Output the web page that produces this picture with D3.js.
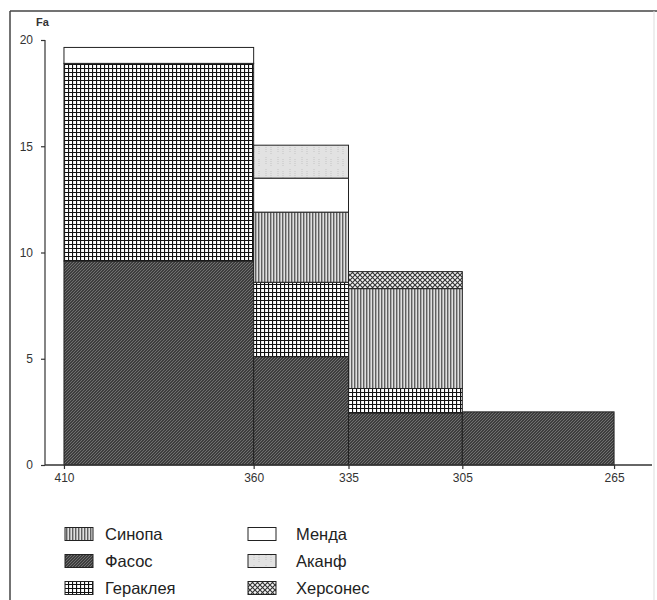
<!DOCTYPE html>
<html><head><meta charset="utf-8">
<script src="https://cdn.jsdelivr.net/npm/d3@7"></script>
<style>body{margin:0;background:#fff}svg{display:block;font-family:"Liberation Sans",Arial,sans-serif}</style>
</head><body>
<script>
const binEdges = [410, 360, 335, 305, 265];
const xTicks = [410, 360, 335, 305, 265];
const yTicks = [0, 5, 10, 15, 20];
const seriesNames = ["Фасос", "Гераклея", "Синопа", "Менда", "Аканф", "Херсонес"];
const fasos     = [9.6, 5.1, 2.45, 2.5];
const herakleia = [9.3, 3.5, 1.15, 0];
const sinopa    = [0, 3.3, 4.7, 0];
const menda     = [0.75, 1.6, 0, 0];
const akanf     = [0, 1.55, 0, 0];
const chersones = [0, 0, 0.8, 0];
const legendLeft = ["Синопа", "Фасос", "Гераклея"];
const legendRight = ["Менда", "Аканф", "Херсонес"];

const valuesByName = {"Фасос": fasos, "Гераклея": herakleia, "Синопа": sinopa, "Менда": menda, "Аканф": akanf, "Херсонес": chersones};
const rows = binEdges.slice(0, -1).map((e, i) => {
  const r = {x0: e, x1: binEdges[i + 1]};
  seriesNames.forEach(n => r[n] = valuesByName[n][i]);
  return r;
});

const W = 657, H = 600;
const svg = d3.select("body").append("svg").attr("width", W).attr("height", H);
const defs = svg.append("defs");

function pat(id, w, h, bg, draw) {
  const p = defs.append("pattern").attr("id", id).attr("patternUnits", "userSpaceOnUse").attr("width", w).attr("height", h);
  p.append("rect").attr("width", w).attr("height", h).attr("fill", bg);
  draw(p);
}
pat("p-fasos", 3, 3, "#3e3e3e", p => {
  p.append("path").attr("d", "M0,3 L3,0 M-1,1 L1,-1 M2,4 L4,2").attr("stroke", "#767676").attr("stroke-width", 0.9);
});
pat("p-herak", 4, 4, "#fff", p => {
  p.append("path").attr("d", "M0,0.5 H4 M0.5,0 V4").attr("stroke", "#111").attr("stroke-width", 1.2);
});
pat("p-sinopa", 3, 10, "#e0e0e0", p => {
  p.append("path").attr("d", "M0.75,0 V10").attr("stroke", "#4a4a4a").attr("stroke-width", 1.2);
});
pat("p-akanf", 12, 12, "#e2e2e2", p => {
  p.append("path").attr("d", "M2,1 V9 M7,3 V11").attr("stroke", "#c4c4c4").attr("stroke-width", 1).attr("stroke-dasharray", "1,1");
});
pat("p-cherson", 5, 5, "#f2f2f2", p => {
  p.append("path").attr("d", "M0,0 L5,5 M5,0 L0,5").attr("stroke", "#333").attr("stroke-width", 1.1);
});
const fills = {"Фасос": "url(#p-fasos)", "Гераклея": "url(#p-herak)", "Синопа": "url(#p-sinopa)", "Менда": "#fff", "Аканф": "url(#p-akanf)", "Херсонес": "url(#p-cherson)"};

// frame
svg.append("line").attr("x1", 10).attr("y1", 11).attr("x2", 657).attr("y2", 11).attr("stroke", "#444").attr("stroke-width", 1.5);
svg.append("line").attr("x1", 10).attr("y1", 11).attr("x2", 10).attr("y2", 600).attr("stroke", "#444").attr("stroke-width", 1.5);
svg.append("line").attr("x1", 654).attr("y1", 11).attr("x2", 654).attr("y2", 600).attr("stroke", "#ddd").attr("stroke-width", 1);

const x = d3.scaleLinear().domain([415, 255]).range([45, 652]);
const y = d3.scaleLinear().domain([0, 20]).range([465, 40]);

const stack = d3.stack().keys(seriesNames)(rows);
const g = svg.append("g");
stack.forEach(layer => {
  g.selectAll(null).data(layer.filter(d => d[1] - d[0] > 0)).join("rect")
    .attr("x", d => x(d.data.x0))
    .attr("width", d => x(d.data.x1) - x(d.data.x0))
    .attr("y", d => y(d[1]))
    .attr("height", d => y(d[0]) - y(d[1]))
    .attr("fill", fills[layer.key])
    .attr("stroke", "#222").attr("stroke-width", 1);
});

// axes
const yAxis = svg.append("g").attr("transform", "translate(45,0)")
  .call(d3.axisLeft(y).tickValues(yTicks).tickSize(4).tickPadding(8));
const xAxis = svg.append("g").attr("transform", "translate(0,465)")
  .call(d3.axisBottom(x).tickValues(xTicks).tickSize(4).tickPadding(4));
[yAxis, xAxis].forEach(a => {
  a.selectAll("path,line").attr("stroke", "#333").attr("stroke-width", 1.2);
  a.selectAll("text").attr("font-size", 12).attr("fill", "#333").attr("font-family", "Liberation Sans, Arial, sans-serif");
  a.select(".domain").attr("d", null);
});
yAxis.append("line").attr("x1", 0).attr("x2", 0).attr("y1", y(20)).attr("y2", y(0)).attr("stroke", "#333").attr("stroke-width", 1.2);
xAxis.append("line").attr("x1", x(415)).attr("x2", x(255)).attr("y1", 0).attr("y2", 0).attr("stroke", "#333").attr("stroke-width", 1.5);

svg.append("text").attr("x", 36).attr("y", 26).text("Fa").attr("font-size", 11).attr("font-weight", "bold").attr("fill", "#333");

// legend
function legendCol(names, sx, tx) {
  names.forEach((n, i) => {
    const cy = 534 + i * 27;
    svg.append("rect").attr("x", sx).attr("y", cy - 6.5).attr("width", 28).attr("height", 13)
      .attr("fill", fills[n]).attr("stroke", "#222").attr("stroke-width", 1);
    svg.append("text").attr("x", tx).attr("y", cy + 6).text(n).attr("font-size", 16.5).attr("fill", "#222");
  });
}
legendCol(legendLeft, 65, 105);
legendCol(legendRight, 248, 296);
</script>
</body></html>
